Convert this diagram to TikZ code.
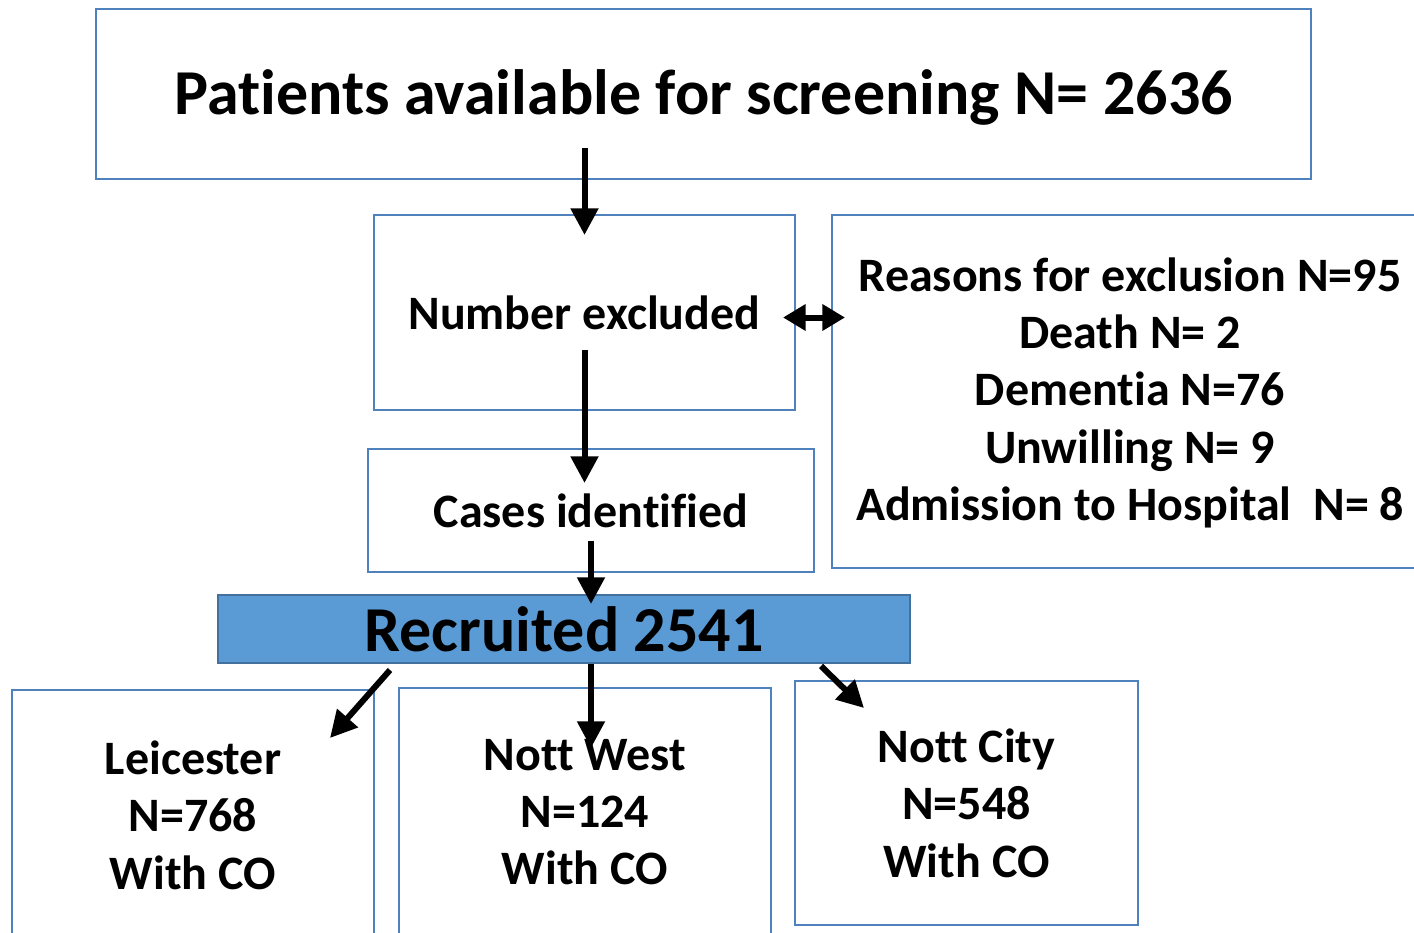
\documentclass[tikz,border=0pt]{standalone}
\usepackage{fontspec}
\setmainfont{Carlito}[Ligatures=NoCommon]
\usetikzlibrary{calc,arrows.meta}

\definecolor{boxline}{RGB}{79,129,189}
\definecolor{recfill}{RGB}{91,155,213}
\definecolor{recline}{RGB}{65,113,156}

\tikzset{
	box/.style={draw=boxline,line width=1.5pt,rectangle,align=center,
		font=\fontsize{36}{43}\selectfont\bfseries,inner sep=0pt},
	arr/.style={line width=4.5pt,-{Triangle[length=20pt,width=20pt]}},
	arrtwo/.style={line width=4.5pt,{Triangle[length=17pt,width=19pt]}-{Triangle[length=17pt,width=19pt]}}
}

\begin{document}
\begin{tikzpicture}[x=0.75pt,y=-0.75pt]
	\useasboundingbox (0,0) rectangle (1414,932);
	\clip (0,0) rectangle (1414,932);
	% boxes
	\node[box,minimum width=911.25pt,minimum height=127.5pt,text height=43pt,text depth=12pt,
		font=\fontsize{48}{58}\selectfont\bfseries] (top) at (703.5,94)
		{Patients available for screening N= 2636};
	\node[box,minimum width=315.75pt,minimum height=146.25pt] (numex) at (584.5,312.5)
		{Number excluded};
	\node[box,minimum width=447pt,minimum height=264.75pt,text depth=4pt] (reasons) at (1130,391.5)
		{Reasons for exclusion N=95\\Death N= 2\\Dementia N=76\\Unwilling N= 9\\Admission to Hospital\ \ N= 8};
	\node[box,minimum width=334.5pt,minimum height=92.25pt] (cases) at (591,510.5)
		{Cases identified};
	\node[box,draw=recline,fill=recfill,minimum width=519pt,minimum height=51pt,
		font=\fontsize{48}{58}\selectfont\bfseries] (recr) at (564,629)
		{Recruited 2541};
	\node[box,minimum width=271.5pt,minimum height=187.5pt] (leic) at (193,815)
		{Leicester\\N=768\\With CO};
	\node[box,minimum width=279pt,minimum height=186pt] (west) at (585,812)
		{Nott West\\N=124\\With CO};
	\node[box,minimum width=257.25pt,minimum height=183pt] (city) at (966.5,803)
		{Nott City\\N=548\\With CO};
	% arrows
	\draw[arr] ($(top.south -| numex.north)+(0,-32)$) -- ($(numex.north)+(0,21)$);
	\draw[arr] ($(numex.center)+(0,37)$) -- ($(numex.south |- cases.north)+(0,35)$);
	\draw[arrtwo] ($(numex.east)+(-13,5)$) -- ($(numex.east -| reasons.west)+(14,5)$);
	\draw[arr] ($(cases.center)+(0,30)$) -- ($(cases.center |- recr.north)+(0,10)$);
	\draw[arr] ($(recr.south west)+(173,6)$) -- ($(leic.north east)+(-45,49)$);
	\draw[arr] (cases.center |- recr.south) -- ($(cases.center |- west.north)+(0,61)$);
	\draw[arr] ($(recr.south east)+(-90,2)$) -- ($(city.north west)+(70,28)$);
\end{tikzpicture}
\end{document}
